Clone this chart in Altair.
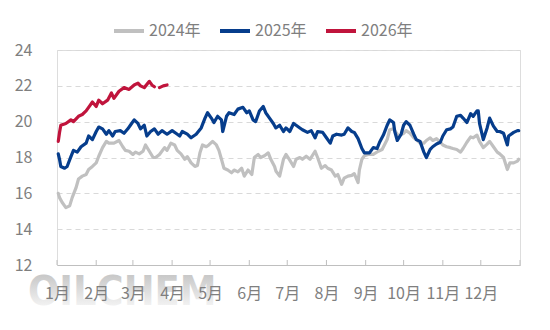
import altair as alt
import pandas as pd

years = ["2024年", "2025年", "2026年"]
colors = ["#c0c0c0", "#063d8c", "#c0143c"]

month_starts = [0, 31, 60, 91, 121, 152, 182, 213, 244, 274, 305, 335, 366]
month_labels = ["1月", "2月", "3月", "4月", "5月", "6月", "7月", "8月", "9月", "10月", "11月", "12月"]
y_ticks = [12, 14, 16, 18, 20, 22, 24]

# (day of year, value)
series_2024 = [
    (1, 16.0), (2, 15.76), (4, 15.5), (7, 15.2), (10, 15.3), (12, 15.76), (15, 16.3), (17, 16.8),
    (20, 16.96), (23, 17.05), (25, 17.33), (28, 17.5), (31, 17.7), (33, 18.07), (36, 18.55),
    (39, 18.9), (41, 18.8), (45, 18.8), (49, 18.95), (52, 18.6), (54, 18.4), (57, 18.35),
    (60, 18.17), (62, 18.3), (65, 18.2), (68, 18.35), (70, 18.7), (73, 18.35), (76, 18.0),
    (78, 18.0), (81, 18.17), (85, 18.55), (87, 18.4), (90, 18.8), (93, 18.7), (95, 18.4),
    (98, 18.2), (101, 17.9), (103, 18.05), (106, 17.7), (109, 17.5), (111, 17.55), (113, 18.26),
    (115, 18.7), (118, 18.6), (120, 18.7), (123, 18.9), (126, 18.7), (128, 18.4), (130, 17.9),
    (132, 17.4), (135, 17.3), (138, 17.15), (140, 17.3), (143, 17.2), (146, 17.4), (148, 16.96),
    (151, 17.3), (154, 17.05), (156, 18.0), (159, 18.17), (161, 18.0), (164, 18.1), (167, 18.26),
    (169, 17.9), (172, 17.5), (173, 17.25), (176, 16.96), (179, 17.9), (181, 18.17), (184, 17.85),
    (187, 17.5), (189, 17.9), (192, 18.0), (194, 17.9), (197, 18.07), (200, 17.9), (204, 18.35),
    (206, 18.0), (209, 17.4), (212, 17.55), (214, 17.4), (217, 17.3), (220, 16.96), (222, 17.05),
    (225, 16.5), (227, 16.85), (230, 16.96), (233, 17.0), (235, 17.1), (238, 16.6), (239, 17.3),
    (241, 17.9), (243, 18.1), (246, 18.17), (250, 18.17), (254, 18.35), (257, 18.45), (261, 19.0),
    (263, 19.55), (266, 19.6), (270, 19.2), (274, 19.35), (276, 19.5), (279, 19.35), (282, 19.1),
    (284, 19.0), (287, 18.8), (290, 18.8), (292, 18.95), (295, 19.1), (297, 18.95), (300, 19.05),
    (303, 18.85), (305, 18.7), (308, 18.6), (311, 18.55), (313, 18.5), (316, 18.45), (319, 18.3),
    (321, 18.5), (324, 18.85), (327, 19.15), (329, 19.1), (332, 19.25), (334, 18.9), (337, 18.55),
    (340, 18.75), (342, 18.9), (345, 18.6), (348, 18.3), (350, 18.2), (353, 18.0), (356, 17.33),
    (358, 17.7), (361, 17.7), (364, 17.8), (365, 17.9),
]

series_2025 = [
    (1, 18.2), (2, 17.9), (3, 17.5), (6, 17.4), (8, 17.5), (11, 18.05), (13, 18.4), (16, 18.3),
    (19, 18.6), (23, 18.8), (25, 19.2), (28, 19.0), (31, 19.45), (33, 19.7), (36, 19.6),
    (39, 19.3), (41, 19.5), (44, 19.2), (46, 19.45), (50, 19.5), (53, 19.35), (56, 19.6),
    (58, 19.8), (61, 20.1), (64, 19.9), (66, 19.6), (69, 19.8), (71, 19.2), (74, 19.45),
    (77, 19.6), (80, 19.3), (83, 19.5), (87, 19.3), (91, 19.5), (94, 19.35), (97, 19.2),
    (99, 19.45), (103, 19.3), (106, 19.1), (110, 19.3), (114, 19.65), (117, 20.2), (119, 20.5),
    (122, 20.2), (124, 19.95), (127, 20.3), (130, 20.1), (131, 19.45), (134, 20.3), (136, 20.5),
    (140, 20.4), (143, 20.7), (147, 20.8), (150, 20.5), (152, 20.6), (155, 20.1), (157, 20.0),
    (160, 20.6), (163, 20.85), (165, 20.5), (168, 20.2), (171, 19.9), (173, 19.65), (176, 19.8),
    (179, 19.45), (181, 19.65), (184, 19.45), (187, 19.9), (189, 19.8), (192, 19.65), (194, 19.55),
    (198, 19.4), (201, 19.5), (204, 19.1), (206, 19.45), (210, 19.4), (213, 19.1), (216, 18.8),
    (218, 19.2), (221, 19.3), (225, 19.25), (227, 19.3), (230, 19.65), (233, 19.45), (235, 19.4),
    (238, 19.05), (241, 18.5), (243, 18.26), (247, 18.26), (250, 18.55), (253, 18.5), (255, 18.85),
    (258, 19.25), (261, 19.8), (263, 20.1), (266, 19.95), (267, 19.45), (269, 18.95), (272, 19.3),
    (274, 19.8), (276, 20.0), (279, 19.8), (282, 19.3), (284, 19.0), (287, 18.9), (290, 18.3),
    (292, 18.0), (295, 18.45), (297, 18.6), (300, 18.75), (303, 18.85), (305, 19.2), (308, 19.55),
    (311, 19.6), (313, 19.7), (316, 20.3), (319, 20.35), (321, 20.2), (324, 19.95), (327, 20.45),
    (329, 20.3), (332, 20.6), (333, 20.6), (334, 19.9), (337, 19.0), (340, 19.65), (342, 20.2),
    (345, 19.75), (348, 19.45), (350, 19.45), (353, 19.35), (356, 18.7), (357, 19.2), (361, 19.4),
    (364, 19.5), (365, 19.5),
]

series_2026 = [
    (1, 18.9), (2, 19.4), (3, 19.8), (7, 19.9), (11, 20.1), (13, 20.0), (17, 20.3), (20, 20.4),
    (23, 20.6), (25, 20.8), (28, 21.1), (31, 20.85), (33, 21.2), (36, 21.0), (40, 21.2),
    (43, 21.6), (45, 21.3), (49, 21.7), (53, 21.9), (57, 21.8), (61, 22.05), (64, 22.15),
    (66, 22.0), (69, 21.9), (73, 22.25), (75, 22.05), (77, 21.95), (79, None), (81, 21.9),
    (84, 22.0), (87, 22.05),
]

rows = []
for name, series in zip(years, [series_2024, series_2025, series_2026]):
    for d, v in series:
        rows.append({"day": d, "value": v, "year": name})
df = pd.DataFrame(rows)

W, H = 463, 215
FONT = "Noto Sans CJK SC"
GREY = "#7f7f7f"

label_expr = (
    "[" + ",".join("'%s'" % m for m in month_labels) + "]"
    + "[indexof([" + ",".join(str(m) for m in month_starts) + "], datum.value)] || ''"
)

x_axis = alt.Axis(
    values=month_starts, labelExpr=label_expr, title=None, grid=False,
    domainColor="#bfbfbf", domainWidth=1, ticks=False,
    labelColor=GREY, labelFontSize=16, labelFont=FONT, labelPadding=20,
    labelFlush=False, labelOverlap=False, labelBound=False, zindex=1,
)
x_scale = alt.Scale(domain=[0, 366], nice=False, zero=False)

lines = alt.Chart(df).mark_line(strokeWidth=3.2, strokeJoin="round", strokeCap="round").encode(
    x=alt.X("day:Q", scale=x_scale, axis=x_axis),
    y=alt.Y(
        "value:Q",
        scale=alt.Scale(domain=[12, 24], nice=False, zero=False),
        axis=alt.Axis(
            values=y_ticks, title=None, domain=False, ticks=False, grid=True,
            gridDash=[5, 4], gridColor="#d9d9d9", gridWidth=1,
            labelColor=GREY, labelFontSize=16, labelFont=FONT, labelPadding=25,
        ),
    ),
    color=alt.Color(
        "year:N",
        scale=alt.Scale(domain=years, range=colors),
        legend=alt.Legend(
            title=None, orient="none", legendX=55, legendY=-36, direction="horizontal",
            symbolType="stroke", symbolSize=900, symbolStrokeWidth=4,
            labelFontSize=16, labelColor=GREY, labelFont=FONT, labelOffset=3,
            columnPadding=11, padding=0,
        ),
    ),
)

ticks = alt.Chart(pd.DataFrame({"day": month_starts})).mark_rule(
    color="#bfbfbf", strokeWidth=1
).encode(x=alt.X("day:Q", scale=x_scale, axis=x_axis), y=alt.value(H - 5), y2=alt.value(H))

wm_fill = alt.Gradient(
    gradient="linear",
    stops=[alt.GradientStop(color="#bdbdbd", offset=0), alt.GradientStop(color="#ffffff", offset=1)],
    x1=0, x2=0, y1=0, y2=1,
)
watermark = alt.Chart(pd.DataFrame({"t": ["OILCHEM"]})).mark_text(
    align="left", baseline="alphabetic", fontSize=41, fontWeight="bold",
    font="DejaVu Sans Condensed", fill=wm_fill,
).encode(text="t:N", x=alt.value(28 - 57), y=alt.value(305 - 50))

chart = alt.layer(watermark, ticks, lines).properties(
    width=W, height=H,
    padding={"left": 57, "top": 50, "right": 30, "bottom": 65},
    autosize=alt.AutoSizeParams(type="none"),
).configure_view(stroke=None).configure(background="white")

chart.save("out.html", embed_options={"renderer": "svg", "actions": False})
